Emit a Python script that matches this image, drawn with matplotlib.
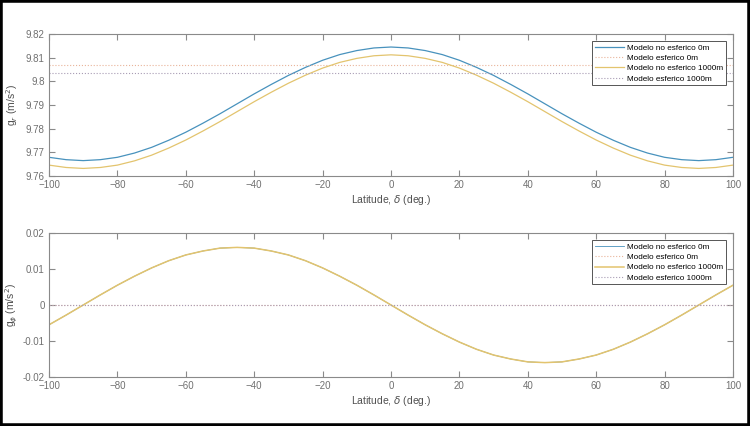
import numpy as np
import matplotlib
matplotlib.use('Agg')
import matplotlib.pyplot as plt
from matplotlib.patches import Rectangle

plt.rcParams['font.family'] = ['Liberation Sans', 'DejaVu Sans']
plt.rcParams['mathtext.fontset'] = 'dejavusans'

# latitude (deg)
lat = [-100, -95, -90, -85, -80, -75, -70, -65, -60, -55, -50, -45, -40, -35, -30,
       -25, -20, -15, -10, -5, 0, 5, 10, 15, 20, 25, 30, 35, 40, 45, 50, 55, 60,
       65, 70, 75, 80, 85, 90, 95, 100]

# g_r, non spherical model, 0 m
gr_ne_0 = [9.7679, 9.7669, 9.7665, 9.7669, 9.7679, 9.7697, 9.7721, 9.7751, 9.7785,
           9.7823, 9.7863, 9.7905, 9.7947, 9.7987, 9.8025, 9.8059, 9.8089, 9.8113,
           9.8130, 9.8141, 9.8145, 9.8141, 9.8130, 9.8113, 9.8089, 9.8059, 9.8025,
           9.7987, 9.7947, 9.7905, 9.7863, 9.7823, 9.7785, 9.7751, 9.7721, 9.7697,
           9.7679, 9.7669, 9.7665, 9.7669, 9.7679]
# g_r, non spherical model, 1000 m
gr_ne_1000 = [9.7646, 9.7636, 9.7632, 9.7636, 9.7646, 9.7664, 9.7688, 9.7718, 9.7752,
              9.7790, 9.7830, 9.7872, 9.7914, 9.7954, 9.7992, 9.8026, 9.8056, 9.8080,
              9.8097, 9.8108, 9.8112, 9.8108, 9.8097, 9.8080, 9.8056, 9.8026, 9.7992,
              9.7954, 9.7914, 9.7872, 9.7830, 9.7790, 9.7752, 9.7718, 9.7688, 9.7664,
              9.7646, 9.7636, 9.7632, 9.7636, 9.7646]
# spherical model (constant)
gr_e_0 = 9.8068
gr_e_1000 = 9.8037

# g_phi, non spherical model (0 m and 1000 m overlap)
gp_ne = [-0.0055, -0.0028, 0.0, 0.0028, 0.0055, 0.0080, 0.0103, 0.0123, 0.0139,
         0.0150, 0.0158, 0.0160, 0.0158, 0.0150, 0.0139, 0.0123, 0.0103, 0.0080,
         0.0055, 0.0028, 0.0, -0.0028, -0.0055, -0.0080, -0.0103, -0.0123, -0.0139,
         -0.0150, -0.0158, -0.0160, -0.0158, -0.0150, -0.0139, -0.0123, -0.0103,
         -0.0080, -0.0055, -0.0028, 0.0, 0.0028, 0.0055]
gp_e = 0.0

legn = ['Modelo no esferico 0m', 'Modelo esferico 0m',
        'Modelo no esferico 1000m', 'Modelo esferico 1000m']
cols = ['#4892bd', '#e9b49a', '#e3c46e', '#a89cb4']

fig = plt.figure(figsize=(7.5, 4.26), dpi=100)
ax1 = fig.add_axes([49/750, 1-176/426, (733-49)/750, (176-34)/426])
ax2 = fig.add_axes([49/750, 1-377/426, (733-49)/750, (377-233)/426])

lat = np.array(lat)
ax1.plot(lat, gr_ne_0, '-', color=cols[0], lw=0.9, label=legn[0])
ax1.plot(lat, np.full(len(lat), gr_e_0), ':', color=cols[1], lw=0.8, label=legn[1])
ax1.plot(lat, gr_ne_1000, '-', color=cols[2], lw=0.9, label=legn[2])
ax1.plot(lat, np.full(len(lat), gr_e_1000), ':', color=cols[3], lw=0.8, label=legn[3])

ax2.plot(lat, gp_ne, '-', color=cols[0], lw=0.6, label=legn[0])
ax2.plot(lat, np.full(len(lat), gp_e), ':', color=cols[1], lw=0.8, label=legn[1])
ax2.plot(lat, gp_ne, '-', color=cols[2], lw=1.1, label=legn[2])
ax2.plot(lat, np.full(len(lat), gp_e), ':', color=cols[3], lw=0.8, label=legn[3])

ax1.set_xlim(-100, 100)
ax1.set_ylim(9.76, 9.82)
ax1.set_yticks([9.76, 9.77, 9.78, 9.79, 9.80, 9.81, 9.82])
ax1.set_yticklabels(['9.76', '9.77', '9.78', '9.79', '9.8', '9.81', '9.82'])
ax2.set_xlim(-100, 100)
ax2.set_ylim(-0.02, 0.02)
ax2.set_yticks([-0.02, -0.01, 0, 0.01, 0.02])
ax2.set_yticklabels(['-0.02', '-0.01', '0', '0.01', '0.02'])

for ax in (ax1, ax2):
    ax.set_xticks(range(-100, 101, 20))
    ax.tick_params(direction='in', top=True, right=True, length=4, width=0.8,
                   colors='#8a8a8a', labelcolor='#707070', labelsize=7, pad=3)
    for sp in ax.spines.values():
        sp.set_color('#8a8a8a')
        sp.set_linewidth(0.8)
    ax.set_xlabel(r'Latitude, $\delta$ (deg.)', fontsize=7.5, color='#505050', labelpad=2)
    leg = ax.legend(loc='upper right', fontsize=5.9, frameon=True, fancybox=False,
                    edgecolor='#555555', framealpha=1, borderpad=0.35, labelspacing=0.3,
                    handlelength=3.6, handletextpad=0.3, borderaxespad=0.9)
    leg.get_frame().set_linewidth(0.7)

ax1.set_ylabel(r'g$_r$ (m/s$^2$)', fontsize=7.5, color='#505050', labelpad=4)
ax2.set_ylabel(r'g$_\phi$ (m/s$^2$)', fontsize=7.5, color='#505050', labelpad=2)

# black frame round the picture
fig.patches.append(Rectangle((0, 0), 1, 1, transform=fig.transFigure, fill=False,
                             edgecolor='black', linewidth=4, zorder=10))

plt.savefig('out.png', dpi=100)
